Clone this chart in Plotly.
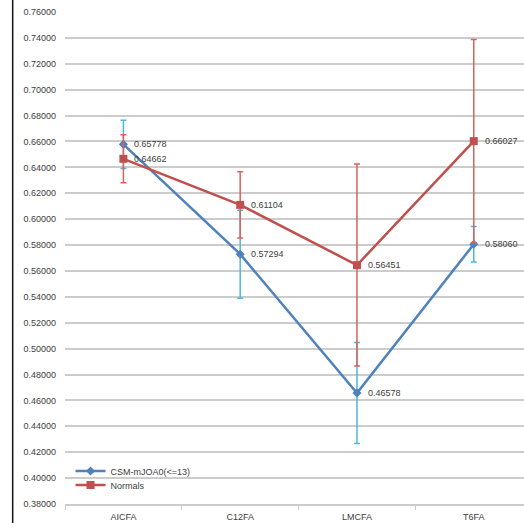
import plotly.graph_objects as go

# Fatty-acid indices: CSM patients (mJOA <= 13) vs. normals, mean +/- error
categories = ["AICFA", "C12FA", "LMCFA", "T6FA"]
csm_values = [0.65778, 0.57294, 0.46578, 0.58060]
csm_errors = [0.0186, 0.0340, 0.0390, 0.0137]
normal_values = [0.64662, 0.61104, 0.56451, 0.66027]
normal_errors = [0.0185, 0.0255, 0.0780, 0.0785]
y_ticks = [0.38 + 0.02 * i for i in range(20)]

BLUE = "#4F81BD"
RED = "#C0504D"
BLUE_ERR = "#4BB8E0"
RED_ERR = "#D9625F"
TEXT = "#404040"
GRID = "#cccccc"
FONT = "Liberation Sans"

fig = go.Figure()

fig.add_trace(go.Scatter(
    x=categories, y=csm_values, name="CSM-mJOA0(<=13)",
    mode="lines+markers", legend="legend",
    line=dict(color=BLUE, width=2.5),
    marker=dict(symbol="diamond", size=7, color=BLUE),
    error_y=dict(type="data", array=csm_errors, visible=True,
                 color=BLUE_ERR, thickness=1.5, width=3),
))

fig.add_trace(go.Scatter(
    x=categories, y=normal_values, name="Normals",
    mode="lines+markers", legend="legend2",
    line=dict(color=RED, width=2.5),
    marker=dict(symbol="square", size=8, color=RED),
    error_y=dict(type="data", array=normal_errors, visible=True,
                 color=RED_ERR, thickness=1.5, width=3),
))

# value labels to the right of each point
for series in (csm_values, normal_values):
    for cat, v in zip(categories, series):
        fig.add_annotation(
            x=cat, y=v, text=f"{v:.5f}", showarrow=False,
            xanchor="left", yanchor="middle", xshift=9,
            font=dict(family=FONT, size=9, color=TEXT),
        )

# chart frame edge on the left
fig.add_shape(type="line", xref="paper", yref="paper",
              x0=-0.114, x1=-0.114, y0=-0.05, y1=1.05,
              line=dict(color="#111111", width=1.5))

legend_style = dict(xanchor="left", yanchor="middle", x=0.012,
                    bgcolor="rgba(0,0,0,0)", font=dict(size=9, color=TEXT),
                    itemwidth=30)

fig.update_layout(
    width=524, height=523,
    margin=dict(l=65, r=0, t=12, b=19),
    paper_bgcolor="white", plot_bgcolor="white",
    font=dict(family=FONT, size=9, color=TEXT),
    showlegend=True,
    legend=dict(y=0.067, **legend_style),
    legend2=dict(y=0.0386, **legend_style),
    xaxis=dict(
        type="category", range=[-0.5, 3.43],
        showgrid=False, showline=True, linecolor=GRID, linewidth=1.5,
        ticks="outside", tickson="boundaries", ticklen=4, tickcolor=GRID,
        ticklabelstandoff=3,
        tickfont=dict(family=FONT, size=9, color=TEXT),
    ),
    yaxis=dict(
        range=[0.38, 0.76], tickvals=y_ticks, tickformat=".5f",
        showgrid=True, gridcolor=GRID, gridwidth=1.5,
        showline=False, zeroline=False, ticks="",
        ticklabelstandoff=8,
        tickfont=dict(family=FONT, size=9, color=TEXT),
    ),
)

fig.write_html("out.html")
